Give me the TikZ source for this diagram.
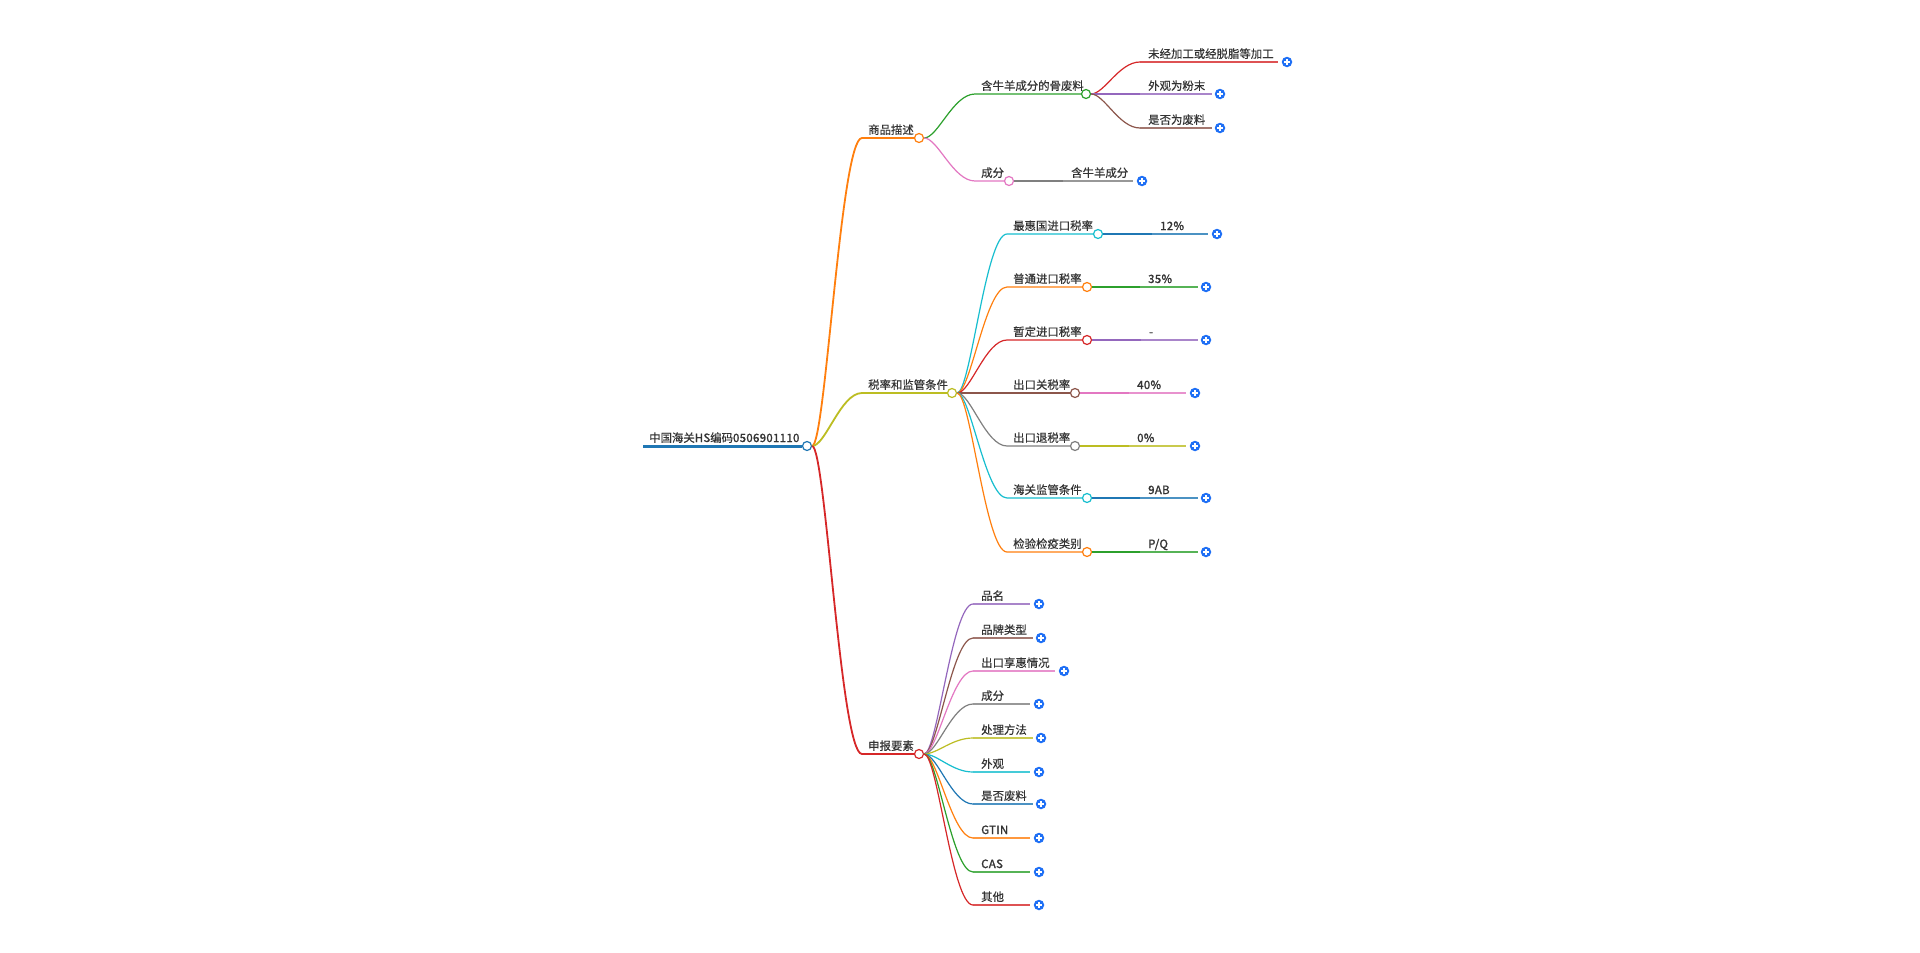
\documentclass[tikz,border=0pt]{standalone}
\usepackage{fontspec}
\setmainfont{Noto Sans CJK SC}[FakeBold=0.4]
\newfontfamily\latb{Noto Sans CJK SC}[FakeBold=1.6,LetterSpace=3]
\usetikzlibrary{calc}
\definecolor{txt}{HTML}{333333}
\definecolor{cblue}{HTML}{1F77B4}
\definecolor{corange}{HTML}{FF7F0E}
\definecolor{cgreen}{HTML}{2CA02C}
\definecolor{cred}{HTML}{D62728}
\definecolor{cpurple}{HTML}{9467BD}
\definecolor{cbrown}{HTML}{8C564B}
\definecolor{cpink}{HTML}{E377C2}
\definecolor{cgray}{HTML}{7F7F7F}
\definecolor{colive}{HTML}{BCBD22}
\definecolor{ccyan}{HTML}{17BECF}
\definecolor{plusblue}{HTML}{1E6FF5}
\newcommand{\fs}{\fontsize{11.4}{13}\selectfont}
\tikzset{
  lbl/.style={anchor=base west, inner sep=0pt, text=txt, font=\fs},
  dot/.style={circle, draw=#1, fill=white, line width=1.2pt, minimum size=9pt, inner sep=0pt},
  plusbtn/.style={circle, fill=plusblue, minimum size=10.5pt, inner sep=0pt,
    path picture={
      \draw[white, line width=1.4pt] ([xshift=-3pt]path picture bounding box.center) -- ([xshift=3pt]path picture bounding box.center);
      \draw[white, line width=1.4pt] ([yshift=-3pt]path picture bounding box.center) -- ([yshift=3pt]path picture bounding box.center);
    }},
  br/.style={to path={.. controls ($(\tikztostart)!0.27!(\tikztostart -| \tikztotarget)$) and ($(\tikztostart |- \tikztotarget)!0.57!(\tikztotarget)$) .. (\tikztotarget)}},
  lone/.style={line width=1.8pt},
  ltwo/.style={line width=1.2pt},
}
% leaf: name, parent anchor, color, y, start x, end x, plus x, text
\newcommand{\myleaf}[8]{%
  \coordinate (#1s) at (#5,#4);
  \coordinate (#1e) at (#6,#4);
  \node[lbl] (#1t) at ({#5+8},{#4-4}) {#8};
  \node[plusbtn] (#1p) at (#7,#4) {};
  \draw[ltwo,#3] (#2) to[br] (#1s);
  \draw[ltwo,#3,opacity=0.8] (#1s) -- (#1e);
}
% inner node: name, parent anchor, color, y, start x, circle x, text, width style
\newcommand{\myinner}[8]{%
  \coordinate (#1s) at (#5,#4);
  \node[dot=#3] (#1) at (#6,#4) {};
  \node[lbl] (#1t) at ({#5+6},{#4-4}) {#7};
  \draw[#8,#3] (#2) to[br] (#1s) -- (#1.west);
}
\begin{document}
\begin{tikzpicture}[x=1pt,y=-1pt]
\useasboundingbox[fill=white] (0,0) rectangle (1920,953);
% root
\coordinate (Rs) at (643,446);
\node[dot=cblue] (R) at (807,446) {};
\node[lbl] (Rt) at (649,442) {中国海关{\latb HS}编码{\latb 0506901110}};
\draw[cblue, line width=3pt] (Rs) -- (R.west);
% level 1
\myinner{A}{R.east}{corange}{138}{862}{919}{商品描述}{lone}
\myinner{B}{R.east}{colive}{393}{862}{952}{税率和监管条件}{lone}
\myinner{C}{R.east}{cred}{754}{862}{919}{申报要素}{lone}
% under A
\myinner{Aa}{A.east}{cgreen}{94}{975}{1086}{含牛羊成分的骨废料}{ltwo}
\myinner{Ab}{A.east}{cpink}{181}{975}{1009}{成分}{ltwo}
\myleaf{Aa1}{Aa.east}{cred}{62}{1140}{1278}{1287}{未经加工或经脱脂等加工}
\myleaf{Aa2}{Aa.east}{cpurple}{94}{1140}{1212}{1220}{外观为粉末}
\myleaf{Aa3}{Aa.east}{cbrown}{128}{1140}{1212}{1220}{是否为废料}
\myleaf{Ab1}{Ab.east}{cgray}{181}{1063}{1133}{1142}{含牛羊成分}
% under B
\myinner{Ba}{B.east}{ccyan}{234}{1007}{1098}{最惠国进口税率}{ltwo}
\myinner{Bb}{B.east}{corange}{287}{1007}{1087}{普通进口税率}{ltwo}
\myinner{Bc}{B.east}{cred}{340}{1007}{1087}{暂定进口税率}{ltwo}
\myinner{Bd}{B.east}{cbrown}{393}{1007}{1075}{出口关税率}{ltwo}
\myinner{Be}{B.east}{cgray}{446}{1007}{1075}{出口退税率}{ltwo}
\myinner{Bf}{B.east}{ccyan}{498}{1007}{1087}{海关监管条件}{ltwo}
\myinner{Bg}{B.east}{corange}{552}{1007}{1087}{检验检疫类别}{ltwo}
\myleaf{Ba1}{Ba.east}{cblue}{234}{1152}{1208}{1217}{\latb 12\%}
\myleaf{Bb1}{Bb.east}{cgreen}{287}{1140}{1198}{1206}{\latb 35\%}
\myleaf{Bc1}{Bc.east}{cpurple}{340}{1141}{1198}{1206}{-}
\myleaf{Bd1}{Bd.east}{cpink}{393}{1129}{1186}{1195}{\latb 40\%}
\myleaf{Be1}{Be.east}{colive}{446}{1129}{1186}{1195}{\latb 0\%}
\myleaf{Bf1}{Bf.east}{cblue}{498}{1140}{1198}{1206}{\latb 9AB}
\myleaf{Bg1}{Bg.east}{cgreen}{552}{1140}{1198}{1206}{\latb P/Q}
% under C
\myleaf{Ca}{C.east}{cpurple}{604}{973}{1030}{1039}{品名}
\myleaf{Cb}{C.east}{cbrown}{638}{973}{1033}{1041}{品牌类型}
\myleaf{Cc}{C.east}{cpink}{671}{973}{1055}{1064}{出口享惠情况}
\myleaf{Cd}{C.east}{cgray}{704}{973}{1030}{1039}{成分}
\myleaf{Ce}{C.east}{colive}{738}{973}{1033}{1041}{处理方法}
\myleaf{Cf}{C.east}{ccyan}{772}{973}{1030}{1039}{外观}
\myleaf{Cg}{C.east}{cblue}{804}{973}{1033}{1041}{是否废料}
\myleaf{Ch}{C.east}{corange}{838}{973}{1030}{1039}{\latb GTIN}
\myleaf{Ci}{C.east}{cgreen}{872}{973}{1030}{1039}{\latb CAS}
\myleaf{Cj}{C.east}{cred}{905}{973}{1030}{1039}{其他}
\end{tikzpicture}
\end{document}
